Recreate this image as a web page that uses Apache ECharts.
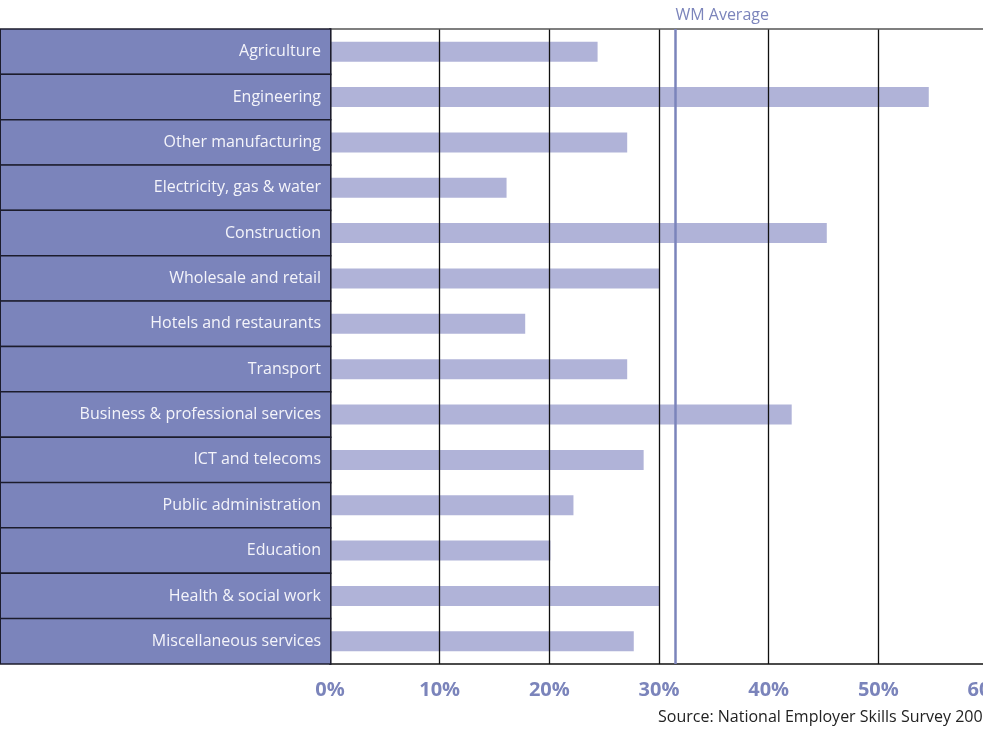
<!DOCTYPE html>
<html>
<head>
<meta charset="utf-8">
<script src="https://cdn.jsdelivr.net/npm/echarts@6/dist/echarts.min.js"></script>
<style>html,body{margin:0;padding:0;background:#fff;}#c{width:983px;height:729px;}</style>
</head>
<body>
<div id="c"></div>
<script>
var categories = ["Agriculture","Engineering","Other manufacturing","Electricity, gas & water","Construction","Wholesale and retail","Hotels and restaurants","Transport","Business & professional services","ICT and telecoms","Public administration","Education","Health & social work","Miscellaneous services"];
var values = [24.4, 54.6, 27.1, 16.1, 45.3, 30.0, 17.8, 27.1, 42.1, 28.6, 22.2, 20.1, 30.0, 27.7];
var wmAverage = 31.5;
var xTicks = [0, 10, 20, 30, 40, 50, 60];
var sourceText = "Source: National Employer Skills Survey 2005";

var FONT = "Open Sans";
var chart = echarts.init(document.getElementById('c'));
chart.setOption({
  animation: false,
  grid: {left: 330, top: 29, width: 658, height: 635, containLabel: false, outerBoundsMode: 'none'},
  xAxis: [{
    type: 'value', min: 0, max: 60, interval: 10, position: 'bottom', z: 3,
    axisLine: {show: true, lineStyle: {color: '#111', width: 1.5}},
    axisTick: {show: false},
    splitLine: {show: true, lineStyle: {color: '#111', width: 1.3}},
    axisLabel: {margin: 16, color: '#7b84bb', fontSize: 20, fontWeight: 'bold', fontFamily: FONT,
      showMinLabel: true, showMaxLabel: true,
      formatter: function(v){ return xTicks.indexOf(v) >= 0 ? v + '%' : ''; }}
  }, {
    type: 'value', min: 0, max: 60, position: 'top', z: 3,
    axisLine: {show: true, lineStyle: {color: '#555', width: 1.5}},
    axisTick: {show: false}, axisLabel: {show: false}, splitLine: {show: false}
  }],
  yAxis: {
    type: 'category', data: categories, inverse: true, z: 4,
    axisLine: {show: true, lineStyle: {color: '#111', width: 1.5}},
    axisTick: {show: false},
    axisLabel: {
      interval: 0, showMinLabel: true, showMaxLabel: true, hideOverlap: false,
      margin: 0, align: 'right', color: '#f4f4fa', fontSize: 16, fontFamily: FONT,
      width: 320, height: 40, lineHeight: 40, padding: [4, 9, 0, 0],
      backgroundColor: '#7b84bb', borderColor: '#1c1c2c', borderWidth: 1.5
    }
  },
  series: [{
    type: 'bar', data: values, barWidth: 20, itemStyle: {color: '#b0b3d8'},
    markLine: {
      silent: true, symbol: 'none',
      lineStyle: {color: '#7b84bb', width: 2.5, type: 'solid'},
      label: {show: true, position: 'start', formatter: 'WM Average', color: '#7b84bb', fontSize: 16, fontFamily: FONT, align: 'left', distance: 6},
      data: [{xAxis: wmAverage}]
    }
  }],
  graphic: [{
    type: 'text', left: 658, top: 709,
    style: {text: sourceText, fontSize: 16, fontFamily: FONT, fill: '#222'}
  }]
});
</script>
</body>
</html>
